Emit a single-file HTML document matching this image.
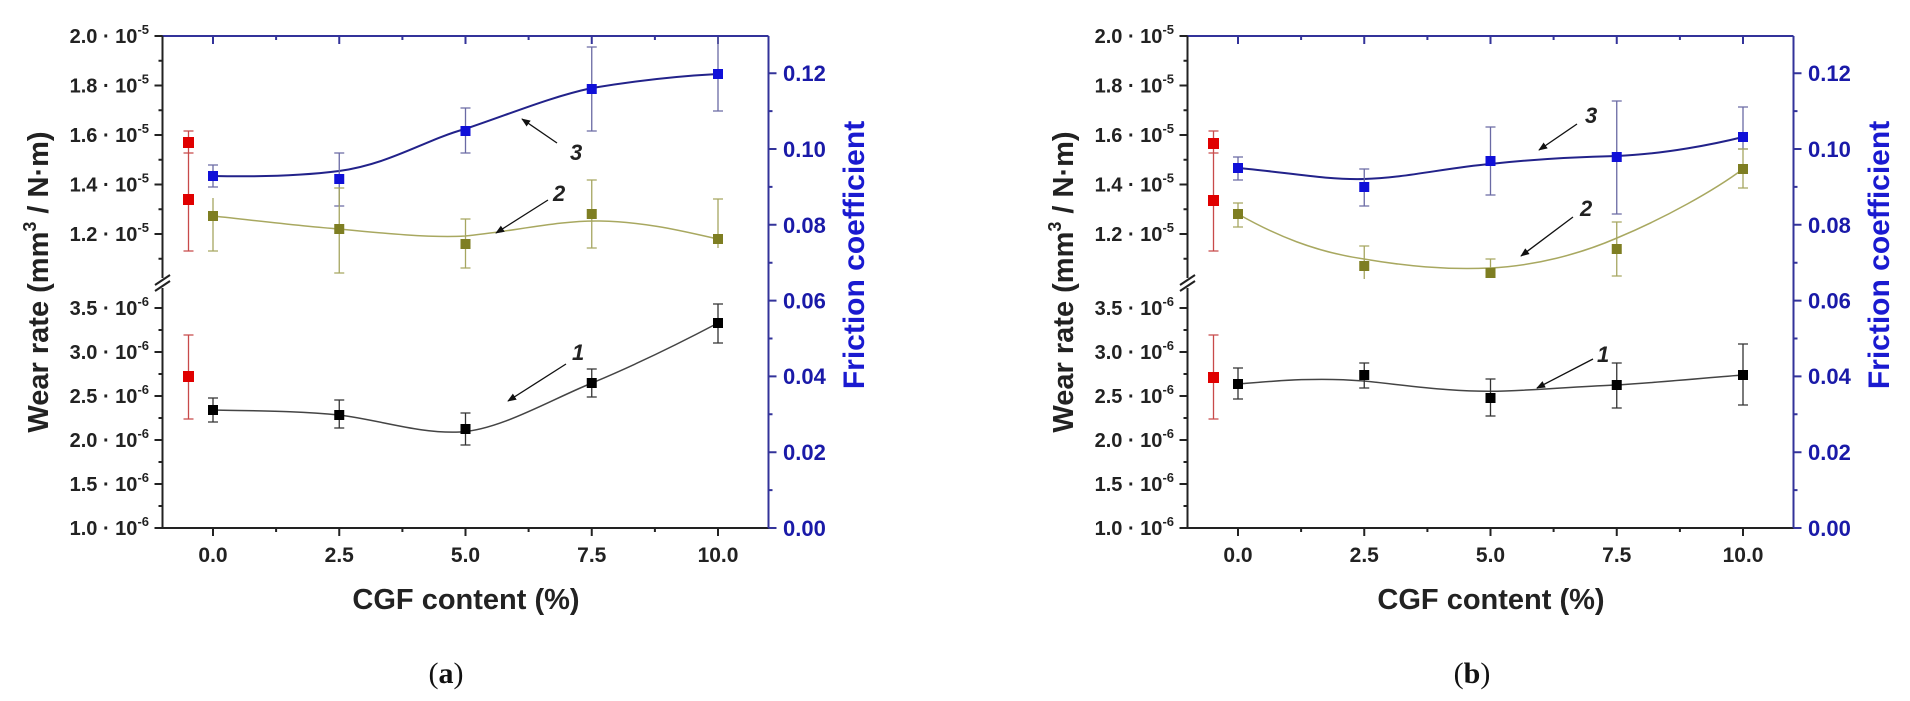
<!DOCTYPE html>
<html><head><meta charset="utf-8"><style>
html,body{margin:0;padding:0;background:#fff;}
svg{display:block;}
text{font-family:"Liberation Sans",sans-serif;font-weight:bold;}
</style></head><body>
<svg width="1910" height="701" viewBox="0 0 1910 701" xmlns="http://www.w3.org/2000/svg">
<defs>
<marker id="ah" viewBox="0 0 10 10" refX="9" refY="5" markerWidth="9" markerHeight="9" orient="auto" markerUnits="userSpaceOnUse"><path d="M0,1 L10,5 L0,9 z" fill="#111"/></marker>
</defs>
<rect width="1910" height="701" fill="#fff"/>

<!-- ================= PANEL A ================= -->
<g id="pa">
<line x1="162.5" y1="528" x2="768.5" y2="528" stroke="#222" stroke-width="2"/>
<line x1="162.5" y1="36" x2="768.5" y2="36" stroke="#33339a" stroke-width="2"/>
<line x1="768.5" y1="36" x2="768.5" y2="528" stroke="#33339a" stroke-width="2"/>
<line x1="162.5" y1="36" x2="162.5" y2="278" stroke="#222" stroke-width="2"/>
<line x1="162.5" y1="288" x2="162.5" y2="528" stroke="#222" stroke-width="2"/>
<line x1="155" y1="285" x2="170" y2="275" stroke="#222" stroke-width="2"/>
<line x1="155" y1="291" x2="170" y2="281" stroke="#222" stroke-width="2"/>
<path d="M154.5,36H162.5M154.5,85.5H162.5M154.5,135H162.5M154.5,184.5H162.5M154.5,234H162.5M154.5,308H162.5M154.5,352H162.5M154.5,396H162.5M154.5,440H162.5M154.5,484H162.5M154.5,528H162.5M158.5,60.75H162.5M158.5,110.25H162.5M158.5,159.75H162.5M158.5,209.25H162.5M158.5,258.75H162.5M158.5,330H162.5M158.5,374H162.5M158.5,418H162.5M158.5,462H162.5M158.5,506H162.5" stroke="#222" stroke-width="2"/>
<path d="M768.5,528H776.5M768.5,452.2H776.5M768.5,376.4H776.5M768.5,300.6H776.5M768.5,224.8H776.5M768.5,149H776.5M768.5,73.2H776.5M768.5,490.1H772.5M768.5,414.3H772.5M768.5,338.5H772.5M768.5,262.7H772.5M768.5,186.9H772.5M768.5,111.1H772.5" stroke="#33339a" stroke-width="2"/>
<path d="M213,528V536M339.25,528V536M465.5,528V536M591.75,528V536M718,528V536M276.1,528V532M402.4,528V532M528.6,528V532M654.9,528V532" stroke="#222" stroke-width="2"/>
<path d="M213,36V44M339.25,36V44M465.5,36V44M591.75,36V44M718,36V44M276.1,36V40M402.4,36V40M528.6,36V40M654.9,36V40" stroke="#33339a" stroke-width="2"/>

<g font-size="20" fill="#222" text-anchor="end">
<text x="149" y="43">2.0 · 10<tspan font-size="13" dy="-9">-5</tspan></text>
<text x="149" y="92.5">1.8 · 10<tspan font-size="13" dy="-9">-5</tspan></text>
<text x="149" y="142">1.6 · 10<tspan font-size="13" dy="-9">-5</tspan></text>
<text x="149" y="191.5">1.4 · 10<tspan font-size="13" dy="-9">-5</tspan></text>
<text x="149" y="241">1.2 · 10<tspan font-size="13" dy="-9">-5</tspan></text>
<text x="149" y="315">3.5 · 10<tspan font-size="13" dy="-9">-6</tspan></text>
<text x="149" y="359">3.0 · 10<tspan font-size="13" dy="-9">-6</tspan></text>
<text x="149" y="403">2.5 · 10<tspan font-size="13" dy="-9">-6</tspan></text>
<text x="149" y="447">2.0 · 10<tspan font-size="13" dy="-9">-6</tspan></text>
<text x="149" y="491">1.5 · 10<tspan font-size="13" dy="-9">-6</tspan></text>
<text x="149" y="535">1.0 · 10<tspan font-size="13" dy="-9">-6</tspan></text>
</g>
<g font-size="22" fill="#1a1aa8">
<text x="783" y="536">0.00</text>
<text x="783" y="460">0.02</text>
<text x="783" y="384">0.04</text>
<text x="783" y="308.6">0.06</text>
<text x="783" y="233">0.08</text>
<text x="783" y="157">0.10</text>
<text x="783" y="81">0.12</text>
</g>
<g font-size="21" fill="#222" text-anchor="middle">
<text x="213" y="562">0.0</text><text x="339.25" y="562">2.5</text><text x="465.5" y="562">5.0</text><text x="591.75" y="562">7.5</text><text x="718" y="562">10.0</text>
</g>
<text x="466" y="609" font-size="29" fill="#222" text-anchor="middle">CGF content (%)</text>
<text transform="translate(48,282) rotate(-90)" font-size="29" fill="#222" text-anchor="middle">Wear rate (mm<tspan font-size="18" dy="-12">3</tspan><tspan dy="12"> / N·m)</tspan></text>
<text transform="translate(864,255) rotate(-90)" font-size="30" fill="#1a1ad0" text-anchor="middle">Friction coefficient</text>
<text x="446" y="683" font-size="30" fill="#111" text-anchor="middle" style="font-family:'Liberation Serif',serif;font-weight:normal">(<tspan font-weight="bold">a</tspan>)</text>

<g stroke="#c84a4a" stroke-width="1.3">
<path d="M188.5,131V251M183.5,131H193.5M183.5,153H193.5M183.5,251H193.5M188.5,335V419M183.5,335H193.5M183.5,419H193.5"/>
</g>
<g fill="#e00000"><rect x="183" y="137" width="11" height="11"/><rect x="183" y="194" width="11" height="11"/><rect x="183" y="371" width="11" height="11"/></g>

<path d="M213,176 C260,177 300,176 339,171 C390,164 425,140 465,129 C510,114 550,97 592,88 C640,80 680,76 718,74" fill="none" stroke="#22228a" stroke-width="2"/>
<path d="M213,216 C260,221 300,226 339,229 C380,233 430,238 465,236 C510,232 560,220 600,221 C650,222 690,233 718,239" fill="none" stroke="#a8a860" stroke-width="1.5"/>
<path d="M213,410 C260,411 300,411 339,415 C380,420 420,434 460,432 C500,430 550,400 592,383 C640,363 680,343 718,323" fill="none" stroke="#444" stroke-width="1.5"/>

<g stroke="#6a6aa4" stroke-width="1.3" fill="none">
<path d="M213,165V187M208,165H218M208,187H218"/>
<path d="M339.25,153V206M334.25,153H344.25M334.25,206H344.25"/>
<path d="M465.5,108V153M460.5,108H470.5M460.5,153H470.5"/>
<path d="M591.75,47V131M586.75,47H596.75M586.75,131H596.75"/>
<path d="M718,37V111M713,111H723"/>
</g>
<g stroke="#a6a660" stroke-width="1.3" fill="none">
<path d="M213,198V251M208,251H218"/>
<path d="M339.25,188V273M334.25,188H344.25M334.25,273H344.25"/>
<path d="M465.5,219V268M460.5,219H470.5M460.5,268H470.5"/>
<path d="M591.75,180V248M586.75,180H596.75M586.75,248H596.75"/>
<path d="M718,199V248M713,199H723"/>
</g>
<g stroke="#333" stroke-width="1.3" fill="none">
<path d="M213,398V422M208,398H218M208,422H218"/>
<path d="M339.25,400V428M334.25,400H344.25M334.25,428H344.25"/>
<path d="M465.5,413V445M460.5,413H470.5M460.5,445H470.5"/>
<path d="M591.75,369V397M586.75,369H596.75M586.75,397H596.75"/>
<path d="M718,304V343M713,304H723M713,343H723"/>
</g>
<g fill="#1010d8"><rect x="208" y="171" width="10" height="10"/><rect x="334.25" y="174" width="10" height="10"/><rect x="460.5" y="126" width="10" height="10"/><rect x="586.75" y="84" width="10" height="10"/><rect x="713" y="69" width="10" height="10"/></g>
<g fill="#7e7e22"><rect x="208" y="211" width="10" height="10"/><rect x="334.25" y="224" width="10" height="10"/><rect x="460.5" y="239" width="10" height="10"/><rect x="586.75" y="209" width="10" height="10"/><rect x="713" y="234" width="10" height="10"/></g>
<g fill="#000"><rect x="208" y="405" width="10" height="10"/><rect x="334.25" y="410" width="10" height="10"/><rect x="460.5" y="424" width="10" height="10"/><rect x="586.75" y="378" width="10" height="10"/><rect x="713" y="318" width="10" height="10"/></g>

<g stroke="#111" stroke-width="1.3" marker-end="url(#ah)"><line x1="557" y1="143" x2="522" y2="119"/><line x1="548" y1="200" x2="496" y2="233"/><line x1="566" y1="364" x2="508" y2="401"/></g>
<g font-size="22" font-style="italic" fill="#222" style="font-weight:normal">
<text x="570" y="160">3</text><text x="553" y="201">2</text><text x="572" y="360">1</text></g>
</g>

<!-- ================= PANEL B ================= -->
<g transform="translate(1025,0)">
<line x1="162.5" y1="528" x2="768.5" y2="528" stroke="#222" stroke-width="2"/>
<line x1="162.5" y1="36" x2="768.5" y2="36" stroke="#33339a" stroke-width="2"/>
<line x1="768.5" y1="36" x2="768.5" y2="528" stroke="#33339a" stroke-width="2"/>
<line x1="162.5" y1="36" x2="162.5" y2="278" stroke="#222" stroke-width="2"/>
<line x1="162.5" y1="288" x2="162.5" y2="528" stroke="#222" stroke-width="2"/>
<line x1="155" y1="285" x2="170" y2="275" stroke="#222" stroke-width="2"/>
<line x1="155" y1="291" x2="170" y2="281" stroke="#222" stroke-width="2"/>
<path d="M154.5,36H162.5M154.5,85.5H162.5M154.5,135H162.5M154.5,184.5H162.5M154.5,234H162.5M154.5,308H162.5M154.5,352H162.5M154.5,396H162.5M154.5,440H162.5M154.5,484H162.5M154.5,528H162.5M158.5,60.75H162.5M158.5,110.25H162.5M158.5,159.75H162.5M158.5,209.25H162.5M158.5,258.75H162.5M158.5,330H162.5M158.5,374H162.5M158.5,418H162.5M158.5,462H162.5M158.5,506H162.5" stroke="#222" stroke-width="2"/>
<path d="M768.5,528H776.5M768.5,452.2H776.5M768.5,376.4H776.5M768.5,300.6H776.5M768.5,224.8H776.5M768.5,149H776.5M768.5,73.2H776.5M768.5,490.1H772.5M768.5,414.3H772.5M768.5,338.5H772.5M768.5,262.7H772.5M768.5,186.9H772.5M768.5,111.1H772.5" stroke="#33339a" stroke-width="2"/>
<path d="M213,528V536M339.25,528V536M465.5,528V536M591.75,528V536M718,528V536M276.1,528V532M402.4,528V532M528.6,528V532M654.9,528V532" stroke="#222" stroke-width="2"/>
<path d="M213,36V44M339.25,36V44M465.5,36V44M591.75,36V44M718,36V44M276.1,36V40M402.4,36V40M528.6,36V40M654.9,36V40" stroke="#33339a" stroke-width="2"/>
<g font-size="20" fill="#222" text-anchor="end">
<text x="149" y="43">2.0 · 10<tspan font-size="13" dy="-9">-5</tspan></text>
<text x="149" y="92.5">1.8 · 10<tspan font-size="13" dy="-9">-5</tspan></text>
<text x="149" y="142">1.6 · 10<tspan font-size="13" dy="-9">-5</tspan></text>
<text x="149" y="191.5">1.4 · 10<tspan font-size="13" dy="-9">-5</tspan></text>
<text x="149" y="241">1.2 · 10<tspan font-size="13" dy="-9">-5</tspan></text>
<text x="149" y="315">3.5 · 10<tspan font-size="13" dy="-9">-6</tspan></text>
<text x="149" y="359">3.0 · 10<tspan font-size="13" dy="-9">-6</tspan></text>
<text x="149" y="403">2.5 · 10<tspan font-size="13" dy="-9">-6</tspan></text>
<text x="149" y="447">2.0 · 10<tspan font-size="13" dy="-9">-6</tspan></text>
<text x="149" y="491">1.5 · 10<tspan font-size="13" dy="-9">-6</tspan></text>
<text x="149" y="535">1.0 · 10<tspan font-size="13" dy="-9">-6</tspan></text>
</g>
<g font-size="22" fill="#1a1aa8">
<text x="783" y="536">0.00</text>
<text x="783" y="460">0.02</text>
<text x="783" y="384">0.04</text>
<text x="783" y="308.6">0.06</text>
<text x="783" y="233">0.08</text>
<text x="783" y="157">0.10</text>
<text x="783" y="81">0.12</text>
</g>
<g font-size="21" fill="#222" text-anchor="middle">
<text x="213" y="562">0.0</text><text x="339.25" y="562">2.5</text><text x="465.5" y="562">5.0</text><text x="591.75" y="562">7.5</text><text x="718" y="562">10.0</text>
</g>
<text x="466" y="609" font-size="29" fill="#222" text-anchor="middle">CGF content (%)</text>
<text transform="translate(48,282) rotate(-90)" font-size="29" fill="#222" text-anchor="middle">Wear rate (mm<tspan font-size="18" dy="-12">3</tspan><tspan dy="12"> / N·m)</tspan></text>
<text transform="translate(864,255) rotate(-90)" font-size="30" fill="#1a1ad0" text-anchor="middle">Friction coefficient</text>
<text x="447" y="683" font-size="30" fill="#111" text-anchor="middle" style="font-family:'Liberation Serif',serif;font-weight:normal">(<tspan font-weight="bold">b</tspan>)</text>

<g stroke="#c84a4a" stroke-width="1.3">
<path d="M188.5,131V251M183.5,131H193.5M183.5,153H193.5M183.5,251H193.5M188.5,335V419M183.5,335H193.5M183.5,419H193.5"/>
</g>
<g fill="#e00000"><rect x="183" y="138" width="11" height="11"/><rect x="183" y="195" width="11" height="11"/><rect x="183" y="372" width="11" height="11"/></g>

<path d="M213,168 C260,172 300,180 339,179 C380,178 420,168 465,164 C510,159 550,157 592,156 C640,154 690,144 718,137" fill="none" stroke="#22228a" stroke-width="2"/>
<path d="M213,214 C250,235 290,252 339,259 C380,266 420,270 465,268 C510,266 555,254 592,238 C640,218 690,190 718,169" fill="none" stroke="#a8a860" stroke-width="1.5"/>
<path d="M213,384 C250,381 290,377 339,381 C380,385 430,393 480,391 C530,389 560,386 592,385 C640,382 690,377 718,375" fill="none" stroke="#444" stroke-width="1.5"/>

<g stroke="#6a6aa4" stroke-width="1.3" fill="none">
<path d="M213,157V180M208,157H218M208,180H218"/>
<path d="M339.25,169V206M334.25,169H344.25M334.25,206H344.25"/>
<path d="M465.5,127V195M460.5,127H470.5M460.5,195H470.5"/>
<path d="M591.75,101V214M586.75,101H596.75M586.75,214H596.75"/>
<path d="M718,107V149M713,107H723M713,149H723"/>
</g>
<g stroke="#a6a660" stroke-width="1.3" fill="none">
<path d="M213,203V227M208,203H218M208,227H218"/>
<path d="M339.25,246V279M334.25,246H344.25"/>
<path d="M465.5,259V276M460.5,259H470.5"/>
<path d="M591.75,222V276M586.75,222H596.75M586.75,276H596.75"/>
<path d="M718,149V188M713,149H723M713,188H723"/>
</g>
<g stroke="#333" stroke-width="1.3" fill="none">
<path d="M213,368V399M208,368H218M208,399H218"/>
<path d="M339.25,363V388M334.25,363H344.25M334.25,388H344.25"/>
<path d="M465.5,379V416M460.5,379H470.5M460.5,416H470.5"/>
<path d="M591.75,363V408M586.75,363H596.75M586.75,408H596.75"/>
<path d="M718,344V405M713,344H723M713,405H723"/>
</g>
<g fill="#1010d8"><rect x="208" y="163" width="10" height="10"/><rect x="334.25" y="182" width="10" height="10"/><rect x="460.5" y="156" width="10" height="10"/><rect x="586.75" y="152" width="10" height="10"/><rect x="713" y="132" width="10" height="10"/></g>
<g fill="#7e7e22"><rect x="208" y="209" width="10" height="10"/><rect x="334.25" y="261" width="10" height="10"/><rect x="460.5" y="268" width="10" height="10"/><rect x="586.75" y="244" width="10" height="10"/><rect x="713" y="164" width="10" height="10"/></g>
<g fill="#000"><rect x="208" y="379" width="10" height="10"/><rect x="334.25" y="370" width="10" height="10"/><rect x="460.5" y="393" width="10" height="10"/><rect x="586.75" y="380" width="10" height="10"/><rect x="713" y="370" width="10" height="10"/></g>

<g stroke="#111" stroke-width="1.3" marker-end="url(#ah)"><line x1="552" y1="124" x2="514" y2="150"/><line x1="548" y1="217" x2="496" y2="256"/><line x1="568" y1="359" x2="512" y2="388"/></g>
<g font-size="22" font-style="italic" fill="#222" style="font-weight:normal">
<text x="560" y="123">3</text><text x="555" y="216">2</text><text x="572" y="362">1</text></g>
</g>
</svg>
</body></html>
